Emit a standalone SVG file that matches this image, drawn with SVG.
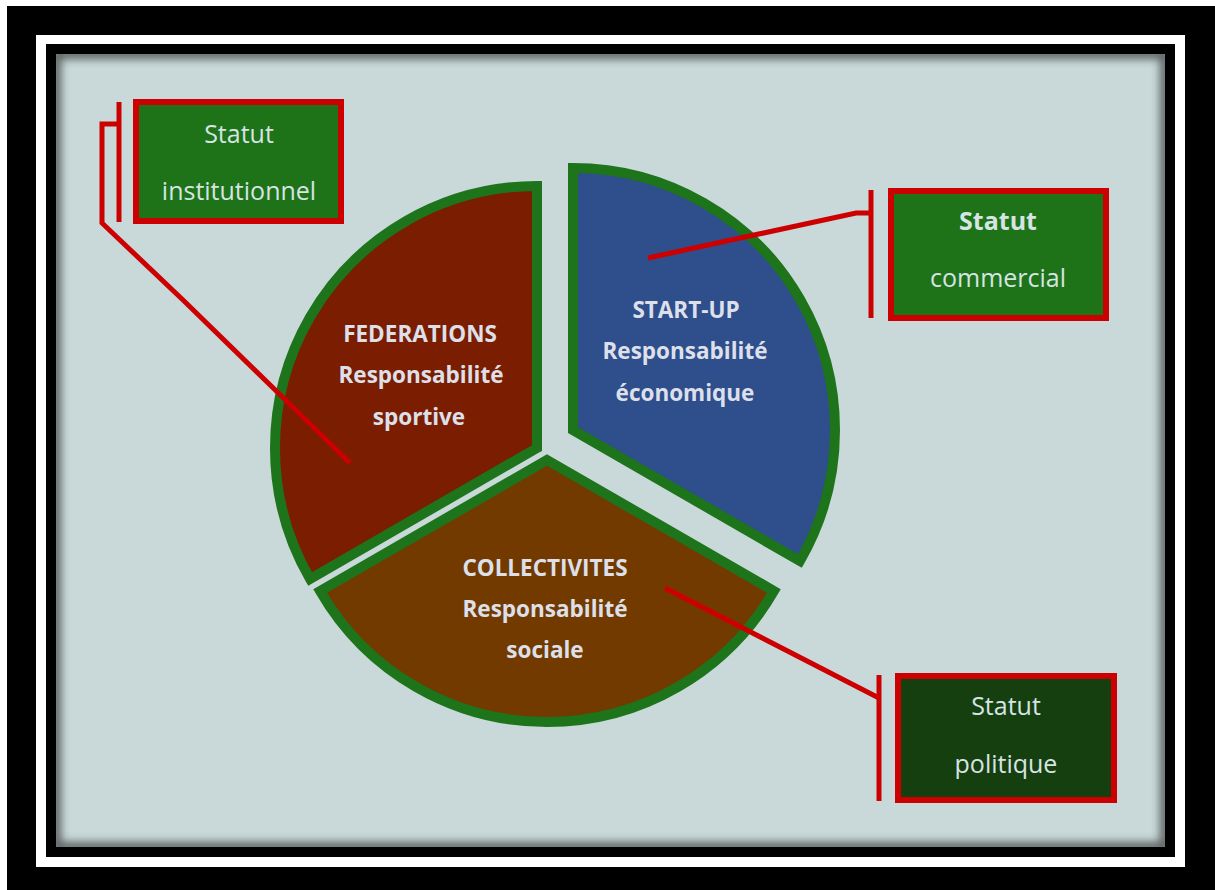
<svg xmlns="http://www.w3.org/2000/svg" width="1215" height="890" viewBox="0 0 1215 890">
<style>
.slice{stroke:#1e741b;stroke-width:10;stroke-linejoin:miter}
.lbl{font-family:"Open Sans","Noto Sans","Liberation Sans",sans-serif;font-weight:bold;font-size:22.5px;fill:#dde0ea;text-anchor:middle}
.box{stroke:#cc0000;stroke-width:6}
.bt{font-family:"Open Sans","Noto Sans","Liberation Sans",sans-serif;font-size:25px;fill:#d6e4e4;text-anchor:middle}
.conn{fill:none;stroke:#cc0000;stroke-width:5;stroke-linejoin:miter}
</style>
<defs>
<clipPath id="clipIn"><rect x="56" y="54" width="1109" height="793"/></clipPath>
<filter id="blur" x="-5%" y="-5%" width="110%" height="110%"><feGaussianBlur stdDeviation="4"/></filter>
</defs>
<rect x="0" y="0" width="1215" height="890" fill="#ffffff"/>
<rect x="7" y="6" width="1208" height="884" fill="#000000"/>
<rect x="36" y="35" width="1149" height="832" fill="#ffffff"/>
<rect x="46" y="44" width="1129" height="813" fill="#000000"/>
<rect x="56" y="54" width="1109" height="793" fill="#c9d9d9"/>
<g clip-path="url(#clipIn)"><rect x="56" y="54" width="1109" height="793" fill="none" stroke="#2a2a2a" stroke-width="10" filter="url(#blur)" opacity="0.7"/></g>

<g id="federations">
<path class="slice" fill="#7a1d00" d="M537,448 L310.1,579 A262,262 0 0,1 537,186 Z"/>
<text class="lbl" x="420" y="342">FEDERATIONS</text>
<text class="lbl" x="421" y="383">Responsabilité</text>
<text class="lbl" x="419" y="425">sportive</text>
</g>
<g id="startup">
<path class="slice" fill="#2e4e8c" d="M573,430 L573,168 A262,262 0 0,1 799.9,561 Z"/>
<text class="lbl" x="686" y="318">START-UP</text>
<text class="lbl" x="685" y="359">Responsabilité</text>
<text class="lbl" x="685" y="401">économique</text>
</g>
<g id="collectivites">
<path class="slice" fill="#733a00" d="M547,460 L773.9,591 A262,262 0 0,1 320.1,591 Z"/>
<text class="lbl" x="545" y="576">COLLECTIVITES</text>
<text class="lbl" x="545" y="617">Responsabilité</text>
<text class="lbl" x="545" y="658">sociale</text>
</g>

<g id="connectors">
<path class="conn" d="M119,102 V222"/>
<path class="conn" d="M119,124 H102 V223 L183,300 L350,463"/>
<path class="conn" d="M871,190 V318"/>
<path class="conn" d="M871,213 H856 L648,258"/>
<path class="conn" d="M879,675 V801"/>
<path class="conn" d="M879,698 L665,588"/>
</g>

<g id="institutionnel">
<rect class="box" x="136" y="102" width="205" height="119" fill="#1e7318"/>
<text class="bt" x="239" y="143">Statut</text>
<text class="bt" x="239" y="200">institutionnel</text>
</g>
<g id="commercial">
<rect class="box" x="891" y="191" width="215" height="127" fill="#1e7318"/>
<text class="bt" x="998" y="230" font-weight="bold">Statut</text>
<text class="bt" x="998" y="287">commercial</text>
</g>
<g id="politique">
<rect class="box" x="898" y="676" width="216" height="124" fill="#163f10"/>
<text class="bt" x="1006" y="715">Statut</text>
<text class="bt" x="1006" y="773">politique</text>
</g>
</svg>
